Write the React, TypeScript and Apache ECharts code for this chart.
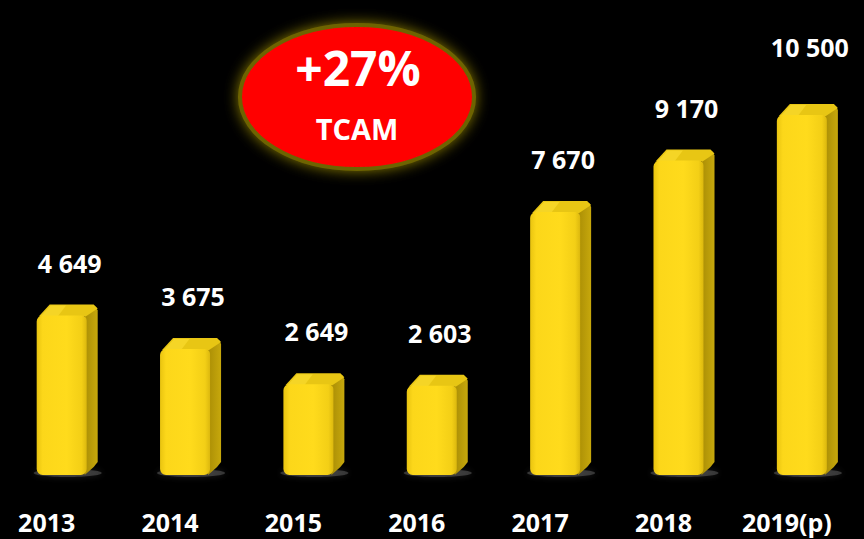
import React, { useEffect, useRef } from "react";
import * as echarts from "echarts";

const years = ["2013", "2014", "2015", "2016", "2017", "2018", "2019(p)"];
const values = [4649, 3675, 2649, 2603, 7670, 9170, 10500];
const badgeRate = "+27%";
const badgeLabel = "TCAM";

const FONT = "'Open Sans', 'DejaVu Sans', sans-serif";

function fmt(v: number): string {
  return String(v).replace(/\B(?=(\d{3})+(?!\d))/g, " ");
}

export default function App() {
  const ref = useRef<HTMLDivElement>(null);
  useEffect(() => {
    document.body.style.margin = "0";
    document.body.style.background = "#000";
    const chart = echarts.init(ref.current!, undefined, { renderer: "svg" });
    const last = values.length - 1;
    chart.setOption({
      animation: false,
      backgroundColor: "#000",
      grid: { left: -4.5, right: -6.5, top: 63.6, bottom: 64 },
      xAxis: {
        type: "category",
        data: years,
        axisLine: { show: false },
        axisTick: { show: false },
        splitLine: { show: false },
        axisLabel: {
          color: "#ffffff",
          fontFamily: FONT,
          fontWeight: "bold",
          fontSize: 25,
          lineHeight: 25,
          margin: 34,
          verticalAlign: "top",
          padding: [0, 30, 0, 0],
        },
      },
      yAxis: { type: "value", min: 0, max: 12000, show: false, splitLine: { show: false } },
      series: [
        {
          type: "custom",
          data: values.map((v, i) => [i, v]),
          renderItem: (params: any, api: any) => {
            const idx = params.dataIndex;
            const v = api.value(1);
            const p = api.coord([api.value(0), v]);
            const b = api.coord([api.value(0), 0]);
            const w = 50;
            const dx = 11;
            const dy = 11;
            const x0 = p[0] - w / 2;
            const x1 = p[0] + w / 2;
            const yt = p[1];
            const yb = b[1];
            const labelGap = idx === last ? 68 : 53;
            return {
              type: "group",
              children: [
                {
                  type: "ellipse",
                  shape: { cx: p[0] + 6, cy: yb - 2, rx: 34, ry: 4 },
                  style: { fill: "rgba(140,140,140,0.35)", shadowBlur: 6, shadowColor: "rgba(160,160,160,0.5)" },
                },
                {
                  type: "polygon",
                  shape: {
                    points: [
                      [x1 - 3, yt + 2],
                      [x1 + dx - 2, yt - dy + 2],
                      [x1 + dx, yt - dy + 6],
                      [x1 + dx, yb - dy - 2],
                      [x1 + dx - 4, yb - dy + 3],
                      [x1 - 2, yb],
                    ],
                  },
                  style: {
                    fill: new echarts.graphic.LinearGradient(0, 0, 1, 0, [
                      { offset: 0, color: "#a88c05" },
                      { offset: 1, color: "#c7a80c" },
                    ]),
                  },
                },
                {
                  type: "polygon",
                  shape: {
                    points: [
                      [x0 + 2, yt + 1],
                      [x0 + dx + 2, yt - dy],
                      [x1 + dx - 4, yt - dy],
                      [x1 + dx, yt - dy + 4],
                      [x1 - 1, yt + 1],
                    ],
                  },
                  style: { fill: "#e8c614" },
                },
                {
                  type: "polygon",
                  shape: {
                    points: [
                      [x0 + 4, yt + 1],
                      [x0 + dx + 3, yt - dy + 1],
                      [p[0] + dx * 0.4, yt - dy + 1],
                      [p[0] - 4, yt + 1],
                    ],
                  },
                  style: { fill: "#f5d526" },
                },
                {
                  type: "rect",
                  shape: { x: x0, y: yt, width: w, height: yb - yt, r: [6, 5, 6, 6] },
                  style: {
                    fill: new echarts.graphic.LinearGradient(0, 0, 1, 0, [
                      { offset: 0, color: "#e9c410" },
                      { offset: 0.12, color: "#fcd71a" },
                      { offset: 0.6, color: "#ffdb1c" },
                      { offset: 0.9, color: "#f3cf16" },
                      { offset: 1, color: "#dcb80e" },
                    ]),
                  },
                },
                {
                  type: "text",
                  style: {
                    x: p[0] + 8,
                    y: yt - labelGap,
                    text: fmt(v),
                    fill: "#ffffff",
                    font: `bold 25px ${FONT}`,
                    align: "center",
                    verticalAlign: "middle",
                  },
                },
              ],
            };
          },
        },
      ],
      graphic: [
        {
          type: "ellipse",
          shape: { cx: 357, cy: 97, rx: 117, ry: 72 },
          style: {
            fill: "#ff0000",
            stroke: "#6e6400",
            lineWidth: 4,
            shadowBlur: 14,
            shadowColor: "rgba(150,135,0,0.9)",
          },
        },
        {
          type: "text",
          style: {
            x: 358,
            y: 67,
            text: badgeRate,
            fill: "#ffffff",
            font: `bold 48px ${FONT}`,
            align: "center",
            verticalAlign: "middle",
          },
        },
        {
          type: "text",
          style: {
            x: 357,
            y: 128,
            text: badgeLabel,
            fill: "#ffffff",
            font: `bold 29px ${FONT}`,
            align: "center",
            verticalAlign: "middle",
          },
        },
      ],
    });
    return () => chart.dispose();
  }, []);
  return <div ref={ref} style={{ width: 864, height: 539 }} />;
}
